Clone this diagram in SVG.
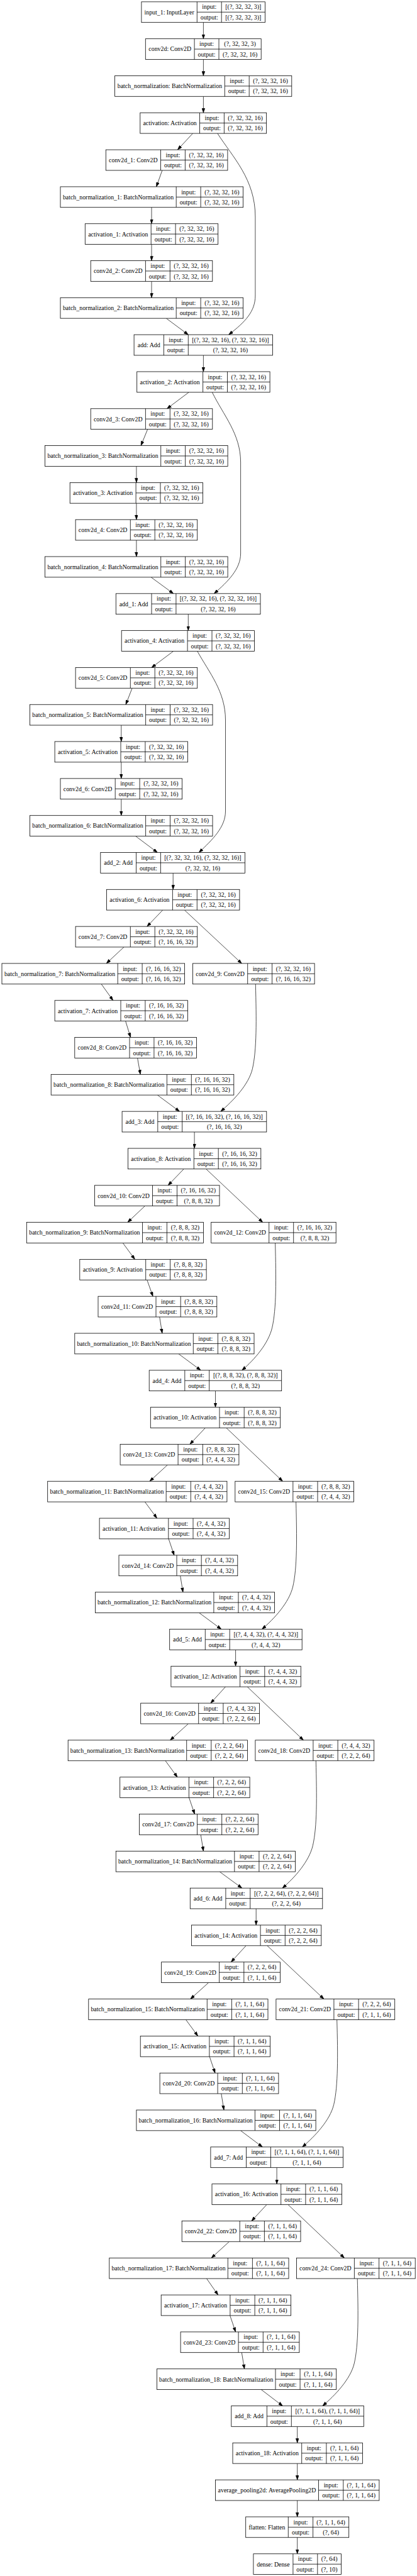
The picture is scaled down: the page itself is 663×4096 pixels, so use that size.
<svg xmlns="http://www.w3.org/2000/svg" width="663" height="4096" viewBox="0 0 663 4096">
<style>
.n rect{fill:#fff;stroke:#000;stroke-width:0.8}
.n path{fill:none;stroke:#000;stroke-width:0.8}
.n text{font-family:"Liberation Serif","Times New Roman",serif;font-size:9.9px;text-anchor:middle;fill:#000}
#edges path{fill:none;stroke:#000;stroke-width:0.7;marker-end:url(#ah)}
</style>
<defs>
<marker id="ah" viewBox="0 0 7.1 5" refX="7.1" refY="2.5" markerWidth="7.1" markerHeight="5" markerUnits="userSpaceOnUse" orient="auto"><path d="M0,0L7.1,2.5L0,5z" fill="#000" stroke="#000" stroke-width="0.5"/></marker>
</defs>
<rect width="663" height="4096" fill="#fff"/>
<g id="edges">
<path d="M323.4 35.67V61.68"/>
<path d="M323.4 94.48V120.49"/>
<path d="M323.4 153.29V179.3"/>
<path d="M306.5 212.1L282.4 238.11"/>
<path d="M257.9 270.91L248.6 296.92"/>
<path d="M241 329.72V355.73"/>
<path d="M241 388.53V414.54"/>
<path d="M241 447.34V473.35"/>
<path d="M264.3 506.15L299.3 532.16"/>
<path d="M345.8 212.1C370 250 405.9 285 405.9 345L405.9 470C405.9 495 390 512 363.6 532.16"/>
<path d="M323.4 564.96V590.97"/>
<path d="M300.2 623.77L265.5 649.78"/>
<path d="M234.7 682.58L224.1 708.59"/>
<path d="M216.9 741.39V767.4"/>
<path d="M216.9 800.2V826.21"/>
<path d="M216.9 859.01V885.02"/>
<path d="M240.2 917.82L275.7 943.83"/>
<path d="M337.4 623.77C355 660 382.6 690 382.6 735L382.6 880C382.6 905 362 925 340.4 943.83"/>
<path d="M299.3 976.63V1002.64"/>
<path d="M275.7 1035.44L241 1061.45"/>
<path d="M210.1 1094.25L200 1120.26"/>
<path d="M192.8 1153.06V1179.07"/>
<path d="M192.8 1211.87V1237.88"/>
<path d="M192.8 1270.68V1296.69"/>
<path d="M215.6 1329.49L250.3 1355.5"/>
<path d="M313.7 1035.44C333 1070 358.5 1100 358.5 1145L358.5 1290C358.5 1315 338 1335 316.3 1355.5"/>
<path d="M275.2 1388.3V1414.31"/>
<path d="M258.7 1447.11L233.8 1473.12"/>
<path d="M293.4 1447.11L384.3 1531.93"/>
<path d="M197 1505.92L169.1 1531.93"/>
<path d="M161.1 1564.73L179.7 1590.74"/>
<path d="M199.6 1623.54L207.6 1649.55"/>
<path d="M218.6 1682.35L223.2 1708.36"/>
<path d="M250.3 1741.16L285.4 1767.17"/>
<path d="M406.3 1564.73C407.8 1621.73 408.3 1669.73 401.3 1699.73C395.3 1724.73 370.9 1750.17 350.9 1767.17"/>
<path d="M309.1 1799.97V1825.98"/>
<path d="M292.2 1858.78L267.2 1884.79"/>
<path d="M327.7 1858.78L417.7 1943.6"/>
<path d="M230.4 1917.59L202.9 1943.6"/>
<path d="M195.3 1976.4L214.4 2002.41"/>
<path d="M233.8 2035.21L243.1 2061.22"/>
<path d="M253.7 2094.02L257.9 2120.03"/>
<path d="M284.1 2152.83L319.2 2178.84"/>
<path d="M437.6 1976.4C439.1 2033.4 439.6 2081.4 432.6 2111.4C426.6 2136.4 404.7 2161.84 384.7 2178.84"/>
<path d="M342.5 2211.64V2237.65"/>
<path d="M326.4 2270.45L301.9 2296.46"/>
<path d="M359.8 2270.45L449.4 2355.27"/>
<path d="M266.4 2329.26L238 2355.27"/>
<path d="M230.4 2388.07L249.5 2414.08"/>
<path d="M268.1 2446.88L276.9 2472.89"/>
<path d="M286.7 2505.69L290.9 2531.7"/>
<path d="M316.7 2564.5L351.8 2590.51"/>
<path d="M470.6 2388.07C472.1 2445.07 472.6 2493.07 465.6 2523.07C459.6 2548.07 436.5 2573.51 416.5 2590.51"/>
<path d="M374.6 2623.31V2649.32"/>
<path d="M358.5 2682.12L334.9 2708.13"/>
<path d="M393.2 2682.12L482.4 2766.94"/>
<path d="M299.3 2740.93L270.6 2766.94"/>
<path d="M263 2799.74L282 2825.75"/>
<path d="M300.6 2858.55L309.5 2884.56"/>
<path d="M319.2 2917.36L323.4 2943.37"/>
<path d="M349.2 2976.17L384.7 3002.18"/>
<path d="M502.3 2799.74C503.8 2856.74 504.3 2904.74 497.3 2934.74C491.3 2959.74 469 2985.18 449 3002.18"/>
<path d="M407.2 3034.98V3060.99"/>
<path d="M391.1 3093.79L367.4 3119.8"/>
<path d="M424.9 3093.79L515 3178.61"/>
<path d="M331.5 3152.6L302.7 3178.61"/>
<path d="M295.5 3211.41L314.6 3237.42"/>
<path d="M333.2 3270.22L342 3296.23"/>
<path d="M351.8 3329.03L356 3355.04"/>
<path d="M382.6 3387.84L417.3 3413.85"/>
<path d="M535.7 3211.41C537.2 3268.41 537.7 3316.41 530.7 3346.41C524.7 3371.41 500.7 3396.85 480.7 3413.85"/>
<path d="M440.1 3446.65V3472.66"/>
<path d="M424.1 3505.46L400 3531.47"/>
<path d="M457.9 3505.46L547.5 3590.28"/>
<path d="M364.5 3564.27L336.1 3590.28"/>
<path d="M328.5 3623.08L346.7 3649.09"/>
<path d="M365.7 3681.89L374.6 3707.9"/>
<path d="M384.3 3740.7L388.6 3766.71"/>
<path d="M415.2 3799.51L449.4 3825.52"/>
<path d="M568.2 3623.08C569.7 3680.08 570.2 3728.08 563.2 3758.08C557.2 3783.08 532.9 3808.52 512.9 3825.52"/>
<path d="M472.7 3858.32V3884.33"/>
<path d="M472.7 3917.13V3943.14"/>
<path d="M472.7 3975.94V4001.95"/>
<path d="M472.7 4034.75V4060.76"/>
</g>

<g id="input_1" class="n" transform="translate(224.9,2.87)"><rect width="196.6" height="32.8"/><path d="M88.4 0V32.8M127.3 0V32.8M88.4 16.4H196.6"/><text x="44.2" y="19.8">input_1: InputLayer</text><text x="107.85" y="11.6">input:</text><text x="107.85" y="28">output:</text><text x="161.95" y="11.6">[(?, 32, 32, 3)]</text><text x="161.95" y="28">[(?, 32, 32, 3)]</text></g>
<g id="conv2d" class="n" transform="translate(231.3,61.68)"><rect width="183.9" height="32.8"/><path d="M77.8 0V32.8M116.7 0V32.8M77.8 16.4H183.9"/><text x="38.9" y="19.8">conv2d: Conv2D</text><text x="97.25" y="11.6">input:</text><text x="97.25" y="28">output:</text><text x="150.3" y="11.6">(?, 32, 32, 3)</text><text x="150.3" y="28">(?, 32, 32, 16)</text></g>
<g id="batch_normalization" class="n" transform="translate(182.6,120.49)"><rect width="281.2" height="32.8"/><path d="M174.7 0V32.8M213.6 0V32.8M174.7 16.4H281.2"/><text x="87.35" y="19.8">batch_normalization: BatchNormalization</text><text x="194.15" y="11.6">input:</text><text x="194.15" y="28">output:</text><text x="247.4" y="11.6">(?, 32, 32, 16)</text><text x="247.4" y="28">(?, 32, 32, 16)</text></g>
<g id="activation" class="n" transform="translate(222.8,179.3)"><rect width="200.8" height="32.8"/><path d="M94.7 0V32.8M133.6 0V32.8M94.7 16.4H200.8"/><text x="47.35" y="19.8">activation: Activation</text><text x="114.15" y="11.6">input:</text><text x="114.15" y="28">output:</text><text x="167.2" y="11.6">(?, 32, 32, 16)</text><text x="167.2" y="28">(?, 32, 32, 16)</text></g>
<g id="conv2d_1" class="n" transform="translate(168.3,238.11)"><rect width="193.6" height="32.8"/><path d="M87.2 0V32.8M126.1 0V32.8M87.2 16.4H193.6"/><text x="43.6" y="19.8">conv2d_1: Conv2D</text><text x="106.65" y="11.6">input:</text><text x="106.65" y="28">output:</text><text x="159.85" y="11.6">(?, 32, 32, 16)</text><text x="159.85" y="28">(?, 32, 32, 16)</text></g>
<g id="batch_normalization_1" class="n" transform="translate(96,296.92)"><rect width="290.6" height="32.8"/><path d="M184.2 0V32.8M223.1 0V32.8M184.2 16.4H290.6"/><text x="92.1" y="19.8">batch_normalization_1: BatchNormalization</text><text x="203.65" y="11.6">input:</text><text x="203.65" y="28">output:</text><text x="256.85" y="11.6">(?, 32, 32, 16)</text><text x="256.85" y="28">(?, 32, 32, 16)</text></g>
<g id="activation_1" class="n" transform="translate(135.3,355.73)"><rect width="211.4" height="32.8"/><path d="M104.9 0V32.8M143.8 0V32.8M104.9 16.4H211.4"/><text x="52.45" y="19.8">activation_1: Activation</text><text x="124.35" y="11.6">input:</text><text x="124.35" y="28">output:</text><text x="177.6" y="11.6">(?, 32, 32, 16)</text><text x="177.6" y="28">(?, 32, 32, 16)</text></g>
<g id="conv2d_2" class="n" transform="translate(144.2,414.54)"><rect width="193.6" height="32.8"/><path d="M87.2 0V32.8M126.1 0V32.8M87.2 16.4H193.6"/><text x="43.6" y="19.8">conv2d_2: Conv2D</text><text x="106.65" y="11.6">input:</text><text x="106.65" y="28">output:</text><text x="159.85" y="11.6">(?, 32, 32, 16)</text><text x="159.85" y="28">(?, 32, 32, 16)</text></g>
<g id="batch_normalization_2" class="n" transform="translate(96,473.35)"><rect width="290.6" height="32.8"/><path d="M184.2 0V32.8M223.1 0V32.8M184.2 16.4H290.6"/><text x="92.1" y="19.8">batch_normalization_2: BatchNormalization</text><text x="203.65" y="11.6">input:</text><text x="203.65" y="28">output:</text><text x="256.85" y="11.6">(?, 32, 32, 16)</text><text x="256.85" y="28">(?, 32, 32, 16)</text></g>
<g id="add" class="n" transform="translate(213.1,532.16)"><rect width="220.3" height="32.8"/><path d="M47.3 0V32.8M86.2 0V32.8M47.3 16.4H220.3"/><text x="23.65" y="19.8">add: Add</text><text x="66.75" y="11.6">input:</text><text x="66.75" y="28">output:</text><text x="153.25" y="11.6">[(?, 32, 32, 16), (?, 32, 32, 16)]</text><text x="153.25" y="28">(?, 32, 32, 16)</text></g>
<g id="activation_2" class="n" transform="translate(217.7,590.97)"><rect width="211.4" height="32.8"/><path d="M104.9 0V32.8M143.8 0V32.8M104.9 16.4H211.4"/><text x="52.45" y="19.8">activation_2: Activation</text><text x="124.35" y="11.6">input:</text><text x="124.35" y="28">output:</text><text x="177.6" y="11.6">(?, 32, 32, 16)</text><text x="177.6" y="28">(?, 32, 32, 16)</text></g>
<g id="conv2d_3" class="n" transform="translate(144.2,649.78)"><rect width="193.6" height="32.8"/><path d="M87.2 0V32.8M126.1 0V32.8M87.2 16.4H193.6"/><text x="43.6" y="19.8">conv2d_3: Conv2D</text><text x="106.65" y="11.6">input:</text><text x="106.65" y="28">output:</text><text x="159.85" y="11.6">(?, 32, 32, 16)</text><text x="159.85" y="28">(?, 32, 32, 16)</text></g>
<g id="batch_normalization_3" class="n" transform="translate(71.5,708.59)"><rect width="290.6" height="32.8"/><path d="M184.2 0V32.8M223.1 0V32.8M184.2 16.4H290.6"/><text x="92.1" y="19.8">batch_normalization_3: BatchNormalization</text><text x="203.65" y="11.6">input:</text><text x="203.65" y="28">output:</text><text x="256.85" y="11.6">(?, 32, 32, 16)</text><text x="256.85" y="28">(?, 32, 32, 16)</text></g>
<g id="activation_3" class="n" transform="translate(111.2,767.4)"><rect width="211.4" height="32.8"/><path d="M104.9 0V32.8M143.8 0V32.8M104.9 16.4H211.4"/><text x="52.45" y="19.8">activation_3: Activation</text><text x="124.35" y="11.6">input:</text><text x="124.35" y="28">output:</text><text x="177.6" y="11.6">(?, 32, 32, 16)</text><text x="177.6" y="28">(?, 32, 32, 16)</text></g>
<g id="conv2d_4" class="n" transform="translate(120.1,826.21)"><rect width="193.6" height="32.8"/><path d="M87.2 0V32.8M126.1 0V32.8M87.2 16.4H193.6"/><text x="43.6" y="19.8">conv2d_4: Conv2D</text><text x="106.65" y="11.6">input:</text><text x="106.65" y="28">output:</text><text x="159.85" y="11.6">(?, 32, 32, 16)</text><text x="159.85" y="28">(?, 32, 32, 16)</text></g>
<g id="batch_normalization_4" class="n" transform="translate(71.5,885.02)"><rect width="290.6" height="32.8"/><path d="M184.2 0V32.8M223.1 0V32.8M184.2 16.4H290.6"/><text x="92.1" y="19.8">batch_normalization_4: BatchNormalization</text><text x="203.65" y="11.6">input:</text><text x="203.65" y="28">output:</text><text x="256.85" y="11.6">(?, 32, 32, 16)</text><text x="256.85" y="28">(?, 32, 32, 16)</text></g>
<g id="add_1" class="n" transform="translate(184.3,943.83)"><rect width="229.7" height="32.8"/><path d="M56.7 0V32.8M95.6 0V32.8M56.7 16.4H229.7"/><text x="28.35" y="19.8">add_1: Add</text><text x="76.15" y="11.6">input:</text><text x="76.15" y="28">output:</text><text x="162.65" y="11.6">[(?, 32, 32, 16), (?, 32, 32, 16)]</text><text x="162.65" y="28">(?, 32, 32, 16)</text></g>
<g id="activation_4" class="n" transform="translate(193.2,1002.64)"><rect width="211.4" height="32.8"/><path d="M104.9 0V32.8M143.8 0V32.8M104.9 16.4H211.4"/><text x="52.45" y="19.8">activation_4: Activation</text><text x="124.35" y="11.6">input:</text><text x="124.35" y="28">output:</text><text x="177.6" y="11.6">(?, 32, 32, 16)</text><text x="177.6" y="28">(?, 32, 32, 16)</text></g>
<g id="conv2d_5" class="n" transform="translate(120.1,1061.45)"><rect width="193.6" height="32.8"/><path d="M87.2 0V32.8M126.1 0V32.8M87.2 16.4H193.6"/><text x="43.6" y="19.8">conv2d_5: Conv2D</text><text x="106.65" y="11.6">input:</text><text x="106.65" y="28">output:</text><text x="159.85" y="11.6">(?, 32, 32, 16)</text><text x="159.85" y="28">(?, 32, 32, 16)</text></g>
<g id="batch_normalization_5" class="n" transform="translate(47.4,1120.26)"><rect width="290.6" height="32.8"/><path d="M184.2 0V32.8M223.1 0V32.8M184.2 16.4H290.6"/><text x="92.1" y="19.8">batch_normalization_5: BatchNormalization</text><text x="203.65" y="11.6">input:</text><text x="203.65" y="28">output:</text><text x="256.85" y="11.6">(?, 32, 32, 16)</text><text x="256.85" y="28">(?, 32, 32, 16)</text></g>
<g id="activation_5" class="n" transform="translate(87.1,1179.07)"><rect width="211.4" height="32.8"/><path d="M104.9 0V32.8M143.8 0V32.8M104.9 16.4H211.4"/><text x="52.45" y="19.8">activation_5: Activation</text><text x="124.35" y="11.6">input:</text><text x="124.35" y="28">output:</text><text x="177.6" y="11.6">(?, 32, 32, 16)</text><text x="177.6" y="28">(?, 32, 32, 16)</text></g>
<g id="conv2d_6" class="n" transform="translate(96,1237.88)"><rect width="193.6" height="32.8"/><path d="M87.2 0V32.8M126.1 0V32.8M87.2 16.4H193.6"/><text x="43.6" y="19.8">conv2d_6: Conv2D</text><text x="106.65" y="11.6">input:</text><text x="106.65" y="28">output:</text><text x="159.85" y="11.6">(?, 32, 32, 16)</text><text x="159.85" y="28">(?, 32, 32, 16)</text></g>
<g id="batch_normalization_6" class="n" transform="translate(47.4,1296.69)"><rect width="290.6" height="32.8"/><path d="M184.2 0V32.8M223.1 0V32.8M184.2 16.4H290.6"/><text x="92.1" y="19.8">batch_normalization_6: BatchNormalization</text><text x="203.65" y="11.6">input:</text><text x="203.65" y="28">output:</text><text x="256.85" y="11.6">(?, 32, 32, 16)</text><text x="256.85" y="28">(?, 32, 32, 16)</text></g>
<g id="add_2" class="n" transform="translate(159.8,1355.5)"><rect width="229.7" height="32.8"/><path d="M56.7 0V32.8M95.6 0V32.8M56.7 16.4H229.7"/><text x="28.35" y="19.8">add_2: Add</text><text x="76.15" y="11.6">input:</text><text x="76.15" y="28">output:</text><text x="162.65" y="11.6">[(?, 32, 32, 16), (?, 32, 32, 16)]</text><text x="162.65" y="28">(?, 32, 32, 16)</text></g>
<g id="activation_6" class="n" transform="translate(169.5,1414.31)"><rect width="211.4" height="32.8"/><path d="M104.9 0V32.8M143.8 0V32.8M104.9 16.4H211.4"/><text x="52.45" y="19.8">activation_6: Activation</text><text x="124.35" y="11.6">input:</text><text x="124.35" y="28">output:</text><text x="177.6" y="11.6">(?, 32, 32, 16)</text><text x="177.6" y="28">(?, 32, 32, 16)</text></g>
<g id="conv2d_7" class="n" transform="translate(120.1,1473.12)"><rect width="193.6" height="32.8"/><path d="M87.2 0V32.8M126.1 0V32.8M87.2 16.4H193.6"/><text x="43.6" y="19.8">conv2d_7: Conv2D</text><text x="106.65" y="11.6">input:</text><text x="106.65" y="28">output:</text><text x="159.85" y="11.6">(?, 32, 32, 16)</text><text x="159.85" y="28">(?, 16, 16, 32)</text></g>
<g id="batch_normalization_7" class="n" transform="translate(3,1531.93)"><rect width="290.6" height="32.8"/><path d="M184.2 0V32.8M223.1 0V32.8M184.2 16.4H290.6"/><text x="92.1" y="19.8">batch_normalization_7: BatchNormalization</text><text x="203.65" y="11.6">input:</text><text x="203.65" y="28">output:</text><text x="256.85" y="11.6">(?, 16, 16, 32)</text><text x="256.85" y="28">(?, 16, 16, 32)</text></g>
<g id="conv2d_9" class="n" transform="translate(306.5,1531.93)"><rect width="193.6" height="32.8"/><path d="M87.2 0V32.8M126.1 0V32.8M87.2 16.4H193.6"/><text x="43.6" y="19.8">conv2d_9: Conv2D</text><text x="106.65" y="11.6">input:</text><text x="106.65" y="28">output:</text><text x="159.85" y="11.6">(?, 32, 32, 16)</text><text x="159.85" y="28">(?, 16, 16, 32)</text></g>
<g id="activation_7" class="n" transform="translate(87.1,1590.74)"><rect width="211.4" height="32.8"/><path d="M104.9 0V32.8M143.8 0V32.8M104.9 16.4H211.4"/><text x="52.45" y="19.8">activation_7: Activation</text><text x="124.35" y="11.6">input:</text><text x="124.35" y="28">output:</text><text x="177.6" y="11.6">(?, 16, 16, 32)</text><text x="177.6" y="28">(?, 16, 16, 32)</text></g>
<g id="conv2d_8" class="n" transform="translate(118.8,1649.55)"><rect width="193.6" height="32.8"/><path d="M87.2 0V32.8M126.1 0V32.8M87.2 16.4H193.6"/><text x="43.6" y="19.8">conv2d_8: Conv2D</text><text x="106.65" y="11.6">input:</text><text x="106.65" y="28">output:</text><text x="159.85" y="11.6">(?, 16, 16, 32)</text><text x="159.85" y="28">(?, 16, 16, 32)</text></g>
<g id="batch_normalization_8" class="n" transform="translate(81.2,1708.36)"><rect width="290.6" height="32.8"/><path d="M184.2 0V32.8M223.1 0V32.8M184.2 16.4H290.6"/><text x="92.1" y="19.8">batch_normalization_8: BatchNormalization</text><text x="203.65" y="11.6">input:</text><text x="203.65" y="28">output:</text><text x="256.85" y="11.6">(?, 16, 16, 32)</text><text x="256.85" y="28">(?, 16, 16, 32)</text></g>
<g id="add_3" class="n" transform="translate(194.1,1767.17)"><rect width="229.7" height="32.8"/><path d="M56.7 0V32.8M95.6 0V32.8M56.7 16.4H229.7"/><text x="28.35" y="19.8">add_3: Add</text><text x="76.15" y="11.6">input:</text><text x="76.15" y="28">output:</text><text x="162.65" y="11.6">[(?, 16, 16, 32), (?, 16, 16, 32)]</text><text x="162.65" y="28">(?, 16, 16, 32)</text></g>
<g id="activation_8" class="n" transform="translate(203.4,1825.98)"><rect width="211.4" height="32.8"/><path d="M104.9 0V32.8M143.8 0V32.8M104.9 16.4H211.4"/><text x="52.45" y="19.8">activation_8: Activation</text><text x="124.35" y="11.6">input:</text><text x="124.35" y="28">output:</text><text x="177.6" y="11.6">(?, 16, 16, 32)</text><text x="177.6" y="28">(?, 16, 16, 32)</text></g>
<g id="conv2d_10" class="n" transform="translate(150.5,1884.79)"><rect width="198.5" height="32.8"/><path d="M92 0V32.8M131 0V32.8M92 16.4H198.5"/><text x="46" y="19.8">conv2d_10: Conv2D</text><text x="111.5" y="11.6">input:</text><text x="111.5" y="28">output:</text><text x="164.75" y="11.6">(?, 16, 16, 32)</text><text x="164.75" y="28">(?, 8, 8, 32)</text></g>
<g id="batch_normalization_9" class="n" transform="translate(42.3,1943.6)"><rect width="281.1" height="32.8"/><path d="M184.2 0V32.8M223.1 0V32.8M184.2 16.4H281.1"/><text x="92.1" y="19.8">batch_normalization_9: BatchNormalization</text><text x="203.65" y="11.6">input:</text><text x="203.65" y="28">output:</text><text x="252.1" y="11.6">(?, 8, 8, 32)</text><text x="252.1" y="28">(?, 8, 8, 32)</text></g>
<g id="conv2d_12" class="n" transform="translate(335.7,1943.6)"><rect width="198.5" height="32.8"/><path d="M92 0V32.8M131 0V32.8M92 16.4H198.5"/><text x="46" y="19.8">conv2d_12: Conv2D</text><text x="111.5" y="11.6">input:</text><text x="111.5" y="28">output:</text><text x="164.75" y="11.6">(?, 16, 16, 32)</text><text x="164.75" y="28">(?, 8, 8, 32)</text></g>
<g id="activation_9" class="n" transform="translate(126.8,2002.41)"><rect width="201.3" height="32.8"/><path d="M104.9 0V32.8M143.8 0V32.8M104.9 16.4H201.3"/><text x="52.45" y="19.8">activation_9: Activation</text><text x="124.35" y="11.6">input:</text><text x="124.35" y="28">output:</text><text x="172.55" y="11.6">(?, 8, 8, 32)</text><text x="172.55" y="28">(?, 8, 8, 32)</text></g>
<g id="conv2d_11" class="n" transform="translate(156,2061.22)"><rect width="188.8" height="32.8"/><path d="M92 0V32.8M131.2 0V32.8M92 16.4H188.8"/><text x="46" y="19.8">conv2d_11: Conv2D</text><text x="111.6" y="11.6">input:</text><text x="111.6" y="28">output:</text><text x="160" y="11.6">(?, 8, 8, 32)</text><text x="160" y="28">(?, 8, 8, 32)</text></g>
<g id="batch_normalization_10" class="n" transform="translate(118.8,2120.03)"><rect width="285.2" height="32.8"/><path d="M188.5 0V32.8M227.6 0V32.8M188.5 16.4H285.2"/><text x="94.25" y="19.8">batch_normalization_10: BatchNormalization</text><text x="208.05" y="11.6">input:</text><text x="208.05" y="28">output:</text><text x="256.4" y="11.6">(?, 8, 8, 32)</text><text x="256.4" y="28">(?, 8, 8, 32)</text></g>
<g id="add_4" class="n" transform="translate(237.2,2178.84)"><rect width="210.5" height="32.8"/><path d="M56.6 0V32.8M95.5 0V32.8M56.6 16.4H210.5"/><text x="28.3" y="19.8">add_4: Add</text><text x="76.05" y="11.6">input:</text><text x="76.05" y="28">output:</text><text x="153" y="11.6">[(?, 8, 8, 32), (?, 8, 8, 32)]</text><text x="153" y="28">(?, 8, 8, 32)</text></g>
<g id="activation_10" class="n" transform="translate(239.3,2237.65)"><rect width="206.4" height="32.8"/><path d="M109.7 0V32.8M148.9 0V32.8M109.7 16.4H206.4"/><text x="54.85" y="19.8">activation_10: Activation</text><text x="129.3" y="11.6">input:</text><text x="129.3" y="28">output:</text><text x="177.65" y="11.6">(?, 8, 8, 32)</text><text x="177.65" y="28">(?, 8, 8, 32)</text></g>
<g id="conv2d_13" class="n" transform="translate(191.1,2296.46)"><rect width="188.8" height="32.8"/><path d="M92 0V32.8M131.2 0V32.8M92 16.4H188.8"/><text x="46" y="19.8">conv2d_13: Conv2D</text><text x="111.6" y="11.6">input:</text><text x="111.6" y="28">output:</text><text x="160" y="11.6">(?, 8, 8, 32)</text><text x="160" y="28">(?, 4, 4, 32)</text></g>
<g id="batch_normalization_11" class="n" transform="translate(75.7,2355.27)"><rect width="285.2" height="32.8"/><path d="M188.5 0V32.8M227.6 0V32.8M188.5 16.4H285.2"/><text x="94.25" y="19.8">batch_normalization_11: BatchNormalization</text><text x="208.05" y="11.6">input:</text><text x="208.05" y="28">output:</text><text x="256.4" y="11.6">(?, 4, 4, 32)</text><text x="256.4" y="28">(?, 4, 4, 32)</text></g>
<g id="conv2d_15" class="n" transform="translate(373.8,2355.27)"><rect width="188.8" height="32.8"/><path d="M92 0V32.8M131.2 0V32.8M92 16.4H188.8"/><text x="46" y="19.8">conv2d_15: Conv2D</text><text x="111.6" y="11.6">input:</text><text x="111.6" y="28">output:</text><text x="160" y="11.6">(?, 8, 8, 32)</text><text x="160" y="28">(?, 4, 4, 32)</text></g>
<g id="activation_11" class="n" transform="translate(158.1,2414.08)"><rect width="206.4" height="32.8"/><path d="M109.7 0V32.8M148.9 0V32.8M109.7 16.4H206.4"/><text x="54.85" y="19.8">activation_11: Activation</text><text x="129.3" y="11.6">input:</text><text x="129.3" y="28">output:</text><text x="177.65" y="11.6">(?, 4, 4, 32)</text><text x="177.65" y="28">(?, 4, 4, 32)</text></g>
<g id="conv2d_14" class="n" transform="translate(189,2472.89)"><rect width="188.8" height="32.8"/><path d="M92 0V32.8M131.2 0V32.8M92 16.4H188.8"/><text x="46" y="19.8">conv2d_14: Conv2D</text><text x="111.6" y="11.6">input:</text><text x="111.6" y="28">output:</text><text x="160" y="11.6">(?, 4, 4, 32)</text><text x="160" y="28">(?, 4, 4, 32)</text></g>
<g id="batch_normalization_12" class="n" transform="translate(151.4,2531.7)"><rect width="285.2" height="32.8"/><path d="M188.5 0V32.8M227.6 0V32.8M188.5 16.4H285.2"/><text x="94.25" y="19.8">batch_normalization_12: BatchNormalization</text><text x="208.05" y="11.6">input:</text><text x="208.05" y="28">output:</text><text x="256.4" y="11.6">(?, 4, 4, 32)</text><text x="256.4" y="28">(?, 4, 4, 32)</text></g>
<g id="add_5" class="n" transform="translate(269.7,2590.51)"><rect width="210.5" height="32.8"/><path d="M56.6 0V32.8M95.5 0V32.8M56.6 16.4H210.5"/><text x="28.3" y="19.8">add_5: Add</text><text x="76.05" y="11.6">input:</text><text x="76.05" y="28">output:</text><text x="153" y="11.6">[(?, 4, 4, 32), (?, 4, 4, 32)]</text><text x="153" y="28">(?, 4, 4, 32)</text></g>
<g id="activation_12" class="n" transform="translate(271.9,2649.32)"><rect width="206.4" height="32.8"/><path d="M109.7 0V32.8M148.9 0V32.8M109.7 16.4H206.4"/><text x="54.85" y="19.8">activation_12: Activation</text><text x="129.3" y="11.6">input:</text><text x="129.3" y="28">output:</text><text x="177.65" y="11.6">(?, 4, 4, 32)</text><text x="177.65" y="28">(?, 4, 4, 32)</text></g>
<g id="conv2d_16" class="n" transform="translate(223.7,2708.13)"><rect width="188.8" height="32.8"/><path d="M92 0V32.8M131.2 0V32.8M92 16.4H188.8"/><text x="46" y="19.8">conv2d_16: Conv2D</text><text x="111.6" y="11.6">input:</text><text x="111.6" y="28">output:</text><text x="160" y="11.6">(?, 4, 4, 32)</text><text x="160" y="28">(?, 2, 2, 64)</text></g>
<g id="batch_normalization_13" class="n" transform="translate(108.2,2766.94)"><rect width="285.2" height="32.8"/><path d="M188.5 0V32.8M227.6 0V32.8M188.5 16.4H285.2"/><text x="94.25" y="19.8">batch_normalization_13: BatchNormalization</text><text x="208.05" y="11.6">input:</text><text x="208.05" y="28">output:</text><text x="256.4" y="11.6">(?, 2, 2, 64)</text><text x="256.4" y="28">(?, 2, 2, 64)</text></g>
<g id="conv2d_18" class="n" transform="translate(405.9,2766.94)"><rect width="188.8" height="32.8"/><path d="M92 0V32.8M131.2 0V32.8M92 16.4H188.8"/><text x="46" y="19.8">conv2d_18: Conv2D</text><text x="111.6" y="11.6">input:</text><text x="111.6" y="28">output:</text><text x="160" y="11.6">(?, 4, 4, 32)</text><text x="160" y="28">(?, 2, 2, 64)</text></g>
<g id="activation_13" class="n" transform="translate(190.7,2825.75)"><rect width="206.4" height="32.8"/><path d="M109.7 0V32.8M148.9 0V32.8M109.7 16.4H206.4"/><text x="54.85" y="19.8">activation_13: Activation</text><text x="129.3" y="11.6">input:</text><text x="129.3" y="28">output:</text><text x="177.65" y="11.6">(?, 2, 2, 64)</text><text x="177.65" y="28">(?, 2, 2, 64)</text></g>
<g id="conv2d_17" class="n" transform="translate(221.5,2884.56)"><rect width="188.8" height="32.8"/><path d="M92 0V32.8M131.2 0V32.8M92 16.4H188.8"/><text x="46" y="19.8">conv2d_17: Conv2D</text><text x="111.6" y="11.6">input:</text><text x="111.6" y="28">output:</text><text x="160" y="11.6">(?, 2, 2, 64)</text><text x="160" y="28">(?, 2, 2, 64)</text></g>
<g id="batch_normalization_14" class="n" transform="translate(184.3,2943.37)"><rect width="285.2" height="32.8"/><path d="M188.5 0V32.8M227.6 0V32.8M188.5 16.4H285.2"/><text x="94.25" y="19.8">batch_normalization_14: BatchNormalization</text><text x="208.05" y="11.6">input:</text><text x="208.05" y="28">output:</text><text x="256.4" y="11.6">(?, 2, 2, 64)</text><text x="256.4" y="28">(?, 2, 2, 64)</text></g>
<g id="add_6" class="n" transform="translate(302.3,3002.18)"><rect width="210.5" height="32.8"/><path d="M56.6 0V32.8M95.5 0V32.8M56.6 16.4H210.5"/><text x="28.3" y="19.8">add_6: Add</text><text x="76.05" y="11.6">input:</text><text x="76.05" y="28">output:</text><text x="153" y="11.6">[(?, 2, 2, 64), (?, 2, 2, 64)]</text><text x="153" y="28">(?, 2, 2, 64)</text></g>
<g id="activation_14" class="n" transform="translate(304.4,3060.99)"><rect width="206.4" height="32.8"/><path d="M109.7 0V32.8M148.9 0V32.8M109.7 16.4H206.4"/><text x="54.85" y="19.8">activation_14: Activation</text><text x="129.3" y="11.6">input:</text><text x="129.3" y="28">output:</text><text x="177.65" y="11.6">(?, 2, 2, 64)</text><text x="177.65" y="28">(?, 2, 2, 64)</text></g>
<g id="conv2d_19" class="n" transform="translate(256.6,3119.8)"><rect width="188.8" height="32.8"/><path d="M92 0V32.8M131.2 0V32.8M92 16.4H188.8"/><text x="46" y="19.8">conv2d_19: Conv2D</text><text x="111.6" y="11.6">input:</text><text x="111.6" y="28">output:</text><text x="160" y="11.6">(?, 2, 2, 64)</text><text x="160" y="28">(?, 1, 1, 64)</text></g>
<g id="batch_normalization_15" class="n" transform="translate(140.8,3178.61)"><rect width="285.2" height="32.8"/><path d="M188.5 0V32.8M227.6 0V32.8M188.5 16.4H285.2"/><text x="94.25" y="19.8">batch_normalization_15: BatchNormalization</text><text x="208.05" y="11.6">input:</text><text x="208.05" y="28">output:</text><text x="256.4" y="11.6">(?, 1, 1, 64)</text><text x="256.4" y="28">(?, 1, 1, 64)</text></g>
<g id="conv2d_21" class="n" transform="translate(438.9,3178.61)"><rect width="188.8" height="32.8"/><path d="M92 0V32.8M131.2 0V32.8M92 16.4H188.8"/><text x="46" y="19.8">conv2d_21: Conv2D</text><text x="111.6" y="11.6">input:</text><text x="111.6" y="28">output:</text><text x="160" y="11.6">(?, 2, 2, 64)</text><text x="160" y="28">(?, 1, 1, 64)</text></g>
<g id="activation_15" class="n" transform="translate(223.2,3237.42)"><rect width="206.4" height="32.8"/><path d="M109.7 0V32.8M148.9 0V32.8M109.7 16.4H206.4"/><text x="54.85" y="19.8">activation_15: Activation</text><text x="129.3" y="11.6">input:</text><text x="129.3" y="28">output:</text><text x="177.65" y="11.6">(?, 1, 1, 64)</text><text x="177.65" y="28">(?, 1, 1, 64)</text></g>
<g id="conv2d_20" class="n" transform="translate(254.1,3296.23)"><rect width="188.8" height="32.8"/><path d="M92 0V32.8M131.2 0V32.8M92 16.4H188.8"/><text x="46" y="19.8">conv2d_20: Conv2D</text><text x="111.6" y="11.6">input:</text><text x="111.6" y="28">output:</text><text x="160" y="11.6">(?, 1, 1, 64)</text><text x="160" y="28">(?, 1, 1, 64)</text></g>
<g id="batch_normalization_16" class="n" transform="translate(216.9,3355.04)"><rect width="285.2" height="32.8"/><path d="M188.5 0V32.8M227.6 0V32.8M188.5 16.4H285.2"/><text x="94.25" y="19.8">batch_normalization_16: BatchNormalization</text><text x="208.05" y="11.6">input:</text><text x="208.05" y="28">output:</text><text x="256.4" y="11.6">(?, 1, 1, 64)</text><text x="256.4" y="28">(?, 1, 1, 64)</text></g>
<g id="add_7" class="n" transform="translate(334.9,3413.85)"><rect width="210.5" height="32.8"/><path d="M56.6 0V32.8M95.5 0V32.8M56.6 16.4H210.5"/><text x="28.3" y="19.8">add_7: Add</text><text x="76.05" y="11.6">input:</text><text x="76.05" y="28">output:</text><text x="153" y="11.6">[(?, 1, 1, 64), (?, 1, 1, 64)]</text><text x="153" y="28">(?, 1, 1, 64)</text></g>
<g id="activation_16" class="n" transform="translate(337,3472.66)"><rect width="206.4" height="32.8"/><path d="M109.7 0V32.8M148.9 0V32.8M109.7 16.4H206.4"/><text x="54.85" y="19.8">activation_16: Activation</text><text x="129.3" y="11.6">input:</text><text x="129.3" y="28">output:</text><text x="177.65" y="11.6">(?, 1, 1, 64)</text><text x="177.65" y="28">(?, 1, 1, 64)</text></g>
<g id="conv2d_22" class="n" transform="translate(289.2,3531.47)"><rect width="188.8" height="32.8"/><path d="M92 0V32.8M131.2 0V32.8M92 16.4H188.8"/><text x="46" y="19.8">conv2d_22: Conv2D</text><text x="111.6" y="11.6">input:</text><text x="111.6" y="28">output:</text><text x="160" y="11.6">(?, 1, 1, 64)</text><text x="160" y="28">(?, 1, 1, 64)</text></g>
<g id="batch_normalization_17" class="n" transform="translate(173.8,3590.28)"><rect width="285.2" height="32.8"/><path d="M188.5 0V32.8M227.6 0V32.8M188.5 16.4H285.2"/><text x="94.25" y="19.8">batch_normalization_17: BatchNormalization</text><text x="208.05" y="11.6">input:</text><text x="208.05" y="28">output:</text><text x="256.4" y="11.6">(?, 1, 1, 64)</text><text x="256.4" y="28">(?, 1, 1, 64)</text></g>
<g id="conv2d_24" class="n" transform="translate(471.4,3590.28)"><rect width="188.8" height="32.8"/><path d="M92 0V32.8M131.2 0V32.8M92 16.4H188.8"/><text x="46" y="19.8">conv2d_24: Conv2D</text><text x="111.6" y="11.6">input:</text><text x="111.6" y="28">output:</text><text x="160" y="11.6">(?, 1, 1, 64)</text><text x="160" y="28">(?, 1, 1, 64)</text></g>
<g id="activation_17" class="n" transform="translate(256.2,3649.09)"><rect width="206.4" height="32.8"/><path d="M109.7 0V32.8M148.9 0V32.8M109.7 16.4H206.4"/><text x="54.85" y="19.8">activation_17: Activation</text><text x="129.3" y="11.6">input:</text><text x="129.3" y="28">output:</text><text x="177.65" y="11.6">(?, 1, 1, 64)</text><text x="177.65" y="28">(?, 1, 1, 64)</text></g>
<g id="conv2d_23" class="n" transform="translate(287.1,3707.9)"><rect width="188.8" height="32.8"/><path d="M92 0V32.8M131.2 0V32.8M92 16.4H188.8"/><text x="46" y="19.8">conv2d_23: Conv2D</text><text x="111.6" y="11.6">input:</text><text x="111.6" y="28">output:</text><text x="160" y="11.6">(?, 1, 1, 64)</text><text x="160" y="28">(?, 1, 1, 64)</text></g>
<g id="batch_normalization_18" class="n" transform="translate(249.5,3766.71)"><rect width="285.2" height="32.8"/><path d="M188.5 0V32.8M227.6 0V32.8M188.5 16.4H285.2"/><text x="94.25" y="19.8">batch_normalization_18: BatchNormalization</text><text x="208.05" y="11.6">input:</text><text x="208.05" y="28">output:</text><text x="256.4" y="11.6">(?, 1, 1, 64)</text><text x="256.4" y="28">(?, 1, 1, 64)</text></g>
<g id="add_8" class="n" transform="translate(367.8,3825.52)"><rect width="210.5" height="32.8"/><path d="M56.6 0V32.8M95.5 0V32.8M56.6 16.4H210.5"/><text x="28.3" y="19.8">add_8: Add</text><text x="76.05" y="11.6">input:</text><text x="76.05" y="28">output:</text><text x="153" y="11.6">[(?, 1, 1, 64), (?, 1, 1, 64)]</text><text x="153" y="28">(?, 1, 1, 64)</text></g>
<g id="activation_18" class="n" transform="translate(370,3884.33)"><rect width="206.4" height="32.8"/><path d="M109.7 0V32.8M148.9 0V32.8M109.7 16.4H206.4"/><text x="54.85" y="19.8">activation_18: Activation</text><text x="129.3" y="11.6">input:</text><text x="129.3" y="28">output:</text><text x="177.65" y="11.6">(?, 1, 1, 64)</text><text x="177.65" y="28">(?, 1, 1, 64)</text></g>
<g id="average_pooling2d" class="n" transform="translate(342.5,3943.14)"><rect width="260.4" height="32.8"/><path d="M164 0V32.8M203.3 0V32.8M164 16.4H260.4"/><text x="82" y="19.8">average_pooling2d: AveragePooling2D</text><text x="183.65" y="11.6">input:</text><text x="183.65" y="28">output:</text><text x="231.85" y="11.6">(?, 1, 1, 64)</text><text x="231.85" y="28">(?, 1, 1, 64)</text></g>
<g id="flatten" class="n" transform="translate(390.7,4001.95)"><rect width="164" height="32.8"/><path d="M67.6 0V32.8M106.9 0V32.8M67.6 16.4H164"/><text x="33.8" y="19.8">flatten: Flatten</text><text x="87.25" y="11.6">input:</text><text x="87.25" y="28">output:</text><text x="135.45" y="11.6">(?, 1, 1, 64)</text><text x="135.45" y="28">(?, 64)</text></g>
<g id="dense" class="n" transform="translate(402.9,4060.76)"><rect width="139.6" height="32.8"/><path d="M63 0V32.8M101.9 0V32.8M63 16.4H139.6"/><text x="31.5" y="19.8">dense: Dense</text><text x="82.45" y="11.6">input:</text><text x="82.45" y="28">output:</text><text x="120.75" y="11.6">(?, 64)</text><text x="120.75" y="28">(?, 10)</text></g>
</svg>
